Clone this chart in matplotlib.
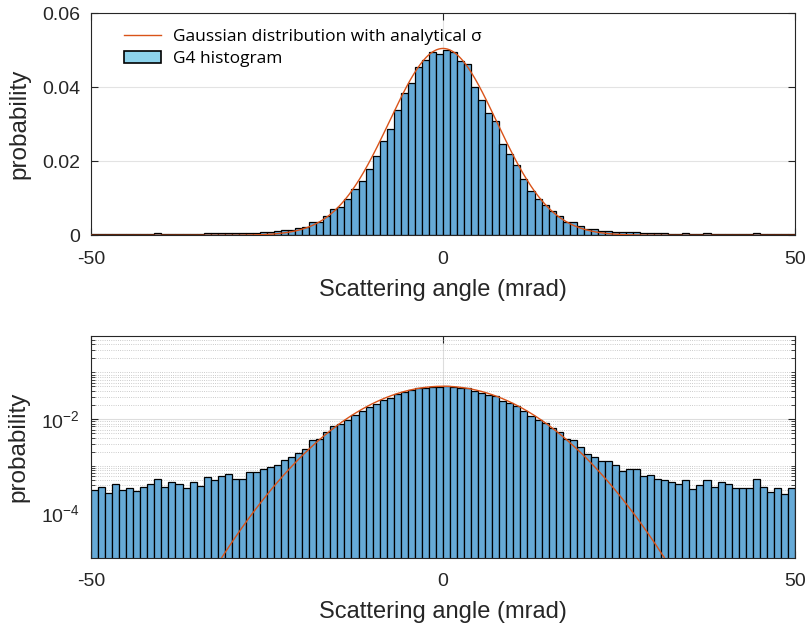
import numpy as np
import matplotlib.pyplot as plt
from matplotlib.patches import Patch
from matplotlib.lines import Line2D
from matplotlib.ticker import LogLocator, NullFormatter, FixedLocator

# bin edges -50..50 mrad, 1 mrad wide
edges = np.arange(-50, 51, 1)

# G4 histogram (probability per bin)
left_tail = [3.06e-4, 3.55e-4, 2.60e-4, 4.19e-4, 3.06e-4, 3.33e-4, 2.87e-4, 3.55e-4,
             4.19e-4, 5.27e-4, 3.55e-4, 4.47e-4, 4.06e-4, 3.44e-4, 4.47e-4, 3.67e-4,
             5.90e-4, 5.01e-4, 6.11e-4, 6.64e-4, 5.19e-4, 5.19e-4, 7.57e-4, 7.57e-4,
             8.63e-4, 9.66e-4, 1.035e-3, 1.35e-3, 1.53e-3, 1.93e-3, 2.34e-3, 3.55e-3,
             3.73e-3, 5.26e-3]
core = [0.0070, 0.0077, 0.00969, 0.01238, 0.0148, 0.01793, 0.02143, 0.02557,
        0.02861, 0.03392, 0.03857, 0.04108, 0.04557, 0.04737, 0.04942, 0.04899,
        0.05007, 0.04961, 0.04719, 0.04619, 0.04019, 0.03669, 0.0330, 0.03077,
        0.02466, 0.02207, 0.01892, 0.01515, 0.01192, 0.00969, 0.00816, 0.00654]
right_tail = [5.34e-3, 3.73e-3, 3.55e-3, 2.51e-3, 1.81e-3, 1.58e-3, 1.28e-3, 1.28e-3,
              1.02e-3, 7.82e-4, 8.49e-4, 8.75e-4, 6.01e-4, 6.32e-4, 5.19e-4, 4.94e-4,
              4.61e-4, 4.06e-4, 4.94e-4, 3.17e-4, 3.92e-4, 4.94e-4, 3.61e-4, 4.61e-4,
              4.06e-4, 3.44e-4, 3.44e-4, 3.44e-4, 5.19e-4, 3.55e-4, 2.74e-4, 3.44e-4,
              2.48e-4, 3.44e-4]
probs = np.array(left_tail + core + right_tail)

# analytical gaussian parameters
sigma = 7.65
amp = 0.0505

x = np.linspace(-50, 50, 1001)
gauss = amp * np.exp(-x**2 / (2 * sigma**2))

plt.rcParams['font.family'] = ['Liberation Sans', 'DejaVu Sans']
plt.rcParams['mathtext.default'] = 'regular'
plt.rcParams['axes.unicode_minus'] = False

bar_color = (0.40, 0.668, 0.845)
line_color = '#D95319'
axis_color = '#262626'

fig = plt.figure(figsize=(8.11, 6.3), dpi=100)
ax1 = fig.add_axes([0.1122, 0.6265, 0.8681, 0.3524])
ax2 = fig.add_axes([0.1122, 0.1148, 0.8681, 0.3519])

for ax in (ax1, ax2):
    ax.bar(edges[:-1], probs, width=1, align='edge', color=bar_color,
           edgecolor='black', linewidth=0.9, bottom=1e-9 if ax is ax2 else 0, zorder=2)
    ax.plot(x, gauss, color=line_color, lw=1.0, zorder=3)
    ax.set_xlim(-50, 50)
    ax.set_xticks([-50, 0, 50])
    ax.set_xlabel('Scattering angle (mrad)', fontsize=17, color=axis_color, labelpad=8)
    ax.set_ylabel('probability', fontsize=17.5, color=axis_color, labelpad=8)
    ax.tick_params(direction='in', top=True, right=True, labelsize=14,
                   colors=axis_color, length=5, width=0.8)
    ax.tick_params(axis='x', pad=11)
    ax.tick_params(axis='y', pad=8)
    for s in ax.spines.values():
        s.set_color(axis_color)
        s.set_linewidth(0.8)
    ax.set_axisbelow(True)

# top, linear
ax1.set_ylim(0, 0.06)
ax1.set_yticks([0, 0.02, 0.04, 0.06])
ax1.set_yticklabels(['0', '0.02', '0.04', '0.06'])
ax1.grid(True, color='#E3E3E3', lw=0.8)

handles = [Line2D([], [], color=line_color, lw=1.0),
           Patch(facecolor='#8DD3EC', edgecolor='black', linewidth=1.2)]
ax1.legend(handles, ['Gaussian distribution with analytical σ', 'G4 histogram'],
           loc='upper left', frameon=False, prop={'family': 'Open Sans', 'size': 12.5},
           bbox_to_anchor=(0.025, 1.0), handlelength=2.1, handletextpad=0.7,
           labelspacing=0.35)

# bottom, log
ax2.set_yscale('log')
ax2.set_ylim(1.09e-5, 0.6)
ax2.yaxis.set_major_locator(FixedLocator([1e-4, 1e-2]))
ax2.set_yticklabels(['$10^{-4}$', '$10^{-2}$'])
ax2.yaxis.set_minor_locator(LogLocator(base=10, subs=np.arange(1, 10), numticks=20))
ax2.yaxis.set_minor_formatter(NullFormatter())
ax2.tick_params(which='minor', direction='in', left=True, right=True, length=3,
                colors=axis_color)
ax2.grid(True, which='major', color='#DDDDDD', lw=0.8)
ax2.grid(True, which='minor', axis='y', color='#BBBBBB', lw=0.6, ls=':')

fig.savefig('out.png', dpi=100)
